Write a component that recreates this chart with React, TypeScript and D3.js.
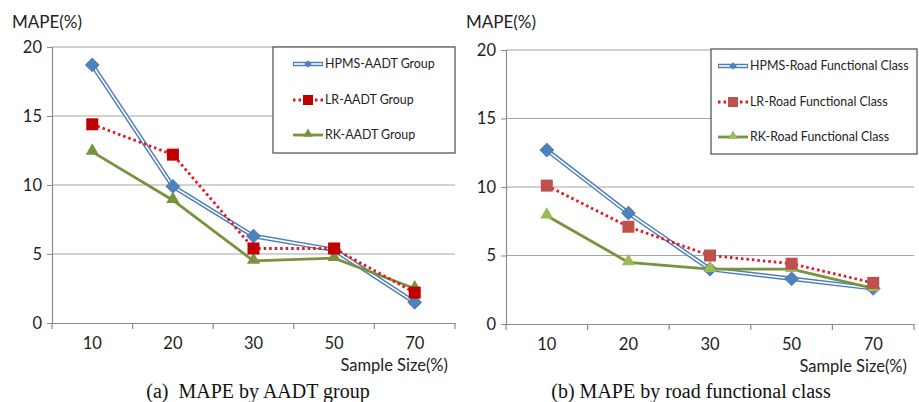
import React, { useRef, useEffect } from "react"
import * as d3 from "d3"

const categories = ["10", "20", "30", "50", "70"]
const yTicks = [0, 5, 10, 15, 20]

const hpmsAadt = [18.7, 9.9, 6.3, 5.3, 1.5]
const lrAadt = [14.4, 12.2, 5.4, 5.4, 2.2]
const rkAadt = [12.4, 8.9, 4.5, 4.7, 2.5]

const hpmsRoad = [12.7, 8.1, 4.0, 3.3, 2.6]
const lrRoad = [10.1, 7.1, 5.0, 4.4, 3.0]
const rkRoad = [7.9, 4.5, 4.0, 4.0, 2.6]

const namesAadt = ["HPMS-AADT Group", "LR-AADT Group", "RK-AADT Group"]
const namesRoad = ["HPMS-Road Functional Class", "LR-Road Functional Class", "RK-Road Functional Class"]

const FONT = "Lato, 'Noto Sans', sans-serif"

type PanelOpts = {
  left: number
  right: number
  top: number
  bottom: number
  series: number[][]
  names: string[]
  lrLine: string
  lrMarker: string
  rkMarker: string
  legend: { x: number; y: number; w: number; h: number; pad: number }
  caption: string
  captionX: number
  mapeX: number
}

function drawPanel(svg: d3.Selection<SVGSVGElement, unknown, null, undefined>, o: PanelOpts) {
  const g = svg.append("g")
  const x = d3.scaleBand().domain(categories).range([o.left, o.right])
  const y = d3.scaleLinear().domain([0, 20]).range([o.bottom, o.top])

  // grid
  g.selectAll(".grid")
    .data(yTicks.filter((t) => t > 0))
    .enter()
    .append("line")
    .attr("x1", o.left)
    .attr("x2", o.right)
    .attr("y1", (d) => y(d))
    .attr("y2", (d) => y(d))
    .attr("stroke", "#a6a6a6")
    .attr("stroke-width", 1.2)

  // y axis
  const ya = g.append("g").attr("transform", `translate(${o.left},0)`).call(d3.axisLeft(y).tickValues(yTicks).tickSize(5).tickPadding(5))
  ya.select(".domain").attr("stroke", "#8c8c8c").attr("stroke-width", 1.2)
  ya.selectAll(".tick line").attr("stroke", "#8c8c8c")
  ya.selectAll("text").attr("font-family", FONT).attr("font-size", 16.5).attr("fill", "#222")

  // x axis
  const xa = g.append("g").attr("transform", `translate(0,${o.bottom})`).call(d3.axisBottom(x).tickSize(0).tickPadding(14))
  xa.select(".domain").attr("stroke", "#8c8c8c").attr("stroke-width", 1.2)
  xa.selectAll("text").attr("font-family", FONT).attr("font-size", 16.5).attr("fill", "#222")
  const bounds = [...categories.map((c) => x(c)!), o.right]
  g.selectAll(".xt")
    .data(bounds)
    .enter()
    .append("line")
    .attr("x1", (d) => d)
    .attr("x2", (d) => d)
    .attr("y1", o.bottom)
    .attr("y2", o.bottom + 6)
    .attr("stroke", "#8c8c8c")
    .attr("stroke-width", 1.2)

  const cx = (i: number) => x(categories[i])! + x.bandwidth() / 2
  const line = d3.line<number>().x((_, i) => cx(i)).y((d) => y(d))

  const [hpms, lr, rk] = o.series

  // HPMS double line
  g.append("path").attr("d", line(hpms)).attr("fill", "none").attr("stroke", "#4a7ebb").attr("stroke-width", 4.5)
  g.append("path").attr("d", line(hpms)).attr("fill", "none").attr("stroke", "#ffffff").attr("stroke-width", 1.6)
  g.selectAll(".dia")
    .data(hpms)
    .enter()
    .append("path")
    .attr("d", d3.symbol(d3.symbolSquare, 95)())
    .attr("transform", (d, i) => `translate(${cx(i)},${y(d)}) rotate(45)`)
    .attr("fill", "#4f81bd")
    .attr("stroke", "#3c6ea8")
    .attr("stroke-width", 0.8)

  // RK
  g.append("path").attr("d", line(rk)).attr("fill", "none").attr("stroke", "#77933c").attr("stroke-width", 2.8)
  g.selectAll(".tri")
    .data(rk)
    .enter()
    .append("path")
    .attr("d", d3.symbol(d3.symbolTriangle, 75)())
    .attr("transform", (d, i) => `translate(${cx(i)},${y(d) - 1})`)
    .attr("fill", o.rkMarker)

  // LR
  g.append("path")
    .attr("d", line(lr))
    .attr("fill", "none")
    .attr("stroke", o.lrLine)
    .attr("stroke-width", 2.8)
    .attr("stroke-dasharray", "2.5 3")
  g.selectAll(".sq")
    .data(lr)
    .enter()
    .append("rect")
    .attr("x", (_, i) => cx(i) - 6)
    .attr("y", (d) => y(d) - 6)
    .attr("width", 12)
    .attr("height", 12)
    .attr("fill", o.lrMarker)

  // legend
  const L = o.legend
  g.append("rect")
    .attr("x", L.x)
    .attr("y", L.y)
    .attr("width", L.w)
    .attr("height", L.h)
    .attr("fill", "#fff")
    .attr("stroke", "#595959")
    .attr("stroke-width", 1.3)
  const rows = [L.y + 17, L.y + 53, L.y + 88]
  const lx1 = L.x + L.pad
  const lx2 = lx1 + 30
  const lm = (lx1 + lx2) / 2
  // HPMS entry
  g.append("line").attr("x1", lx1).attr("x2", lx2).attr("y1", rows[0]).attr("y2", rows[0]).attr("stroke", "#4a7ebb").attr("stroke-width", 4.5)
  g.append("line").attr("x1", lx1 + 1).attr("x2", lx2 - 1).attr("y1", rows[0]).attr("y2", rows[0]).attr("stroke", "#fff").attr("stroke-width", 1.6)
  g.append("path").attr("d", d3.symbol(d3.symbolSquare, 30)()).attr("transform", `translate(${lm},${rows[0]}) rotate(45)`).attr("fill", "#4f81bd")
  // LR entry
  g.append("line").attr("x1", lx1).attr("x2", lx2).attr("y1", rows[1]).attr("y2", rows[1]).attr("stroke", o.lrLine).attr("stroke-width", 2.8).attr("stroke-dasharray", "2.5 3")
  g.append("rect").attr("x", lm - 5).attr("y", rows[1] - 5).attr("width", 10).attr("height", 10).attr("fill", o.lrMarker)
  // RK entry
  g.append("line").attr("x1", lx1).attr("x2", lx2).attr("y1", rows[2]).attr("y2", rows[2]).attr("stroke", "#77933c").attr("stroke-width", 2.8)
  g.append("path").attr("d", d3.symbol(d3.symbolTriangle, 40)()).attr("transform", `translate(${lm},${rows[2] - 1})`).attr("fill", o.rkMarker)

  g.selectAll(".lt")
    .data(o.names)
    .enter()
    .append("text")
    .attr("x", lx2 + 2)
    .attr("y", (_, i) => rows[i])
    .attr("dy", "0.35em")
    .attr("font-family", FONT)
    .attr("font-size", 12.4)
    .attr("fill", "#222")
    .text((d) => d)

  // titles
  g.append("text").attr("x", o.mapeX).attr("y", 28).attr("font-family", FONT).attr("font-size", 17).attr("fill", "#222").text("MAPE(%)")
  g.append("text")
    .attr("x", o.right - 7)
    .attr("y", o.bottom + 48)
    .attr("text-anchor", "end")
    .attr("font-family", FONT)
    .attr("font-size", 16.5)
    .attr("fill", "#222")
    .text("Sample Size(%)")
  g.append("text")
    .attr("x", o.captionX)
    .attr("y", 398)
    .attr("text-anchor", "middle")
    .attr("font-family", "'Liberation Serif', 'DejaVu Serif', serif")
    .attr("font-size", 20)
    .attr("fill", "#111")
    .attr("xml:space", "preserve")
    .style("white-space", "pre")
    .text(o.caption)
}

const App = () => {
  const svgRef = useRef<SVGSVGElement>(null)

  useEffect(() => {
    const svg = d3.select(svgRef.current!)
    svg.selectAll("*").remove()
    drawPanel(svg, {
      left: 52,
      right: 455,
      top: 47,
      bottom: 323,
      series: [hpmsAadt, lrAadt, rkAadt],
      names: namesAadt,
      lrLine: "#e8141e",
      lrMarker: "#c00000",
      rkMarker: "#77933c",
      legend: { x: 273, y: 47, w: 182, h: 106, pad: 20 },
      caption: "(a)  MAPE by AADT group",
      captionX: 258,
      mapeX: 12,
    })
    drawPanel(svg, {
      left: 506,
      right: 914,
      top: 50,
      bottom: 324,
      series: [hpmsRoad, lrRoad, rkRoad],
      names: namesRoad,
      lrLine: "#e8141e",
      lrMarker: "#c0504d",
      rkMarker: "#9bbb59",
      legend: { x: 711, y: 49, w: 206, h: 105, pad: 7 },
      caption: "(b) MAPE by road functional class",
      captionX: 691,
      mapeX: 466,
    })
  }, [])

  return (
    <svg
      ref={svgRef}
      width={919}
      height={402}
      style={{ position: "absolute", left: 0, top: 0, background: "#fff" }}
    ></svg>
  )
}

export default App
